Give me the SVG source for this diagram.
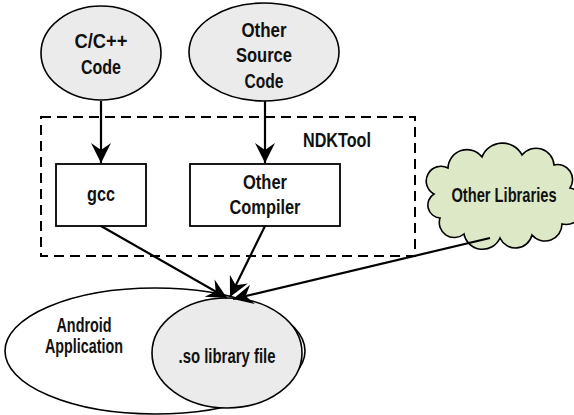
<svg xmlns="http://www.w3.org/2000/svg" width="574" height="415" viewBox="0 0 574 415">
<style>
text{font-family:"Liberation Sans",Arial,sans-serif;font-size:20px;font-weight:bold;fill:#111;text-anchor:middle}
.ell{fill:#ebebeb;stroke:#000;stroke-width:1.6}
.box{fill:#fff;stroke:#000;stroke-width:1.8}
.line{fill:none;stroke:#000;stroke-width:2.2;marker-end:url(#ah)}
</style>
<defs>
<marker id="ah" markerUnits="userSpaceOnUse" markerWidth="24" markerHeight="24" viewBox="-22 -12 24 24" refX="0" refY="0" orient="auto">
<path d="M0,0 L-20,-10 L-13,0 L-20,10 Z" fill="#000"/>
</marker>
</defs>
<g id="ndktool">
<rect x="41" y="117" width="374" height="139" fill="none" stroke="#000" stroke-width="2" stroke-dasharray="10,6"/>
<text x="337" y="147" textLength="68" lengthAdjust="spacingAndGlyphs">NDKTool</text>
</g>
<g id="android-app">
<ellipse cx="155" cy="351" rx="150" ry="63" fill="#fff" stroke="#000" stroke-width="1.6"/>
<text x="84" y="332" textLength="55" lengthAdjust="spacingAndGlyphs">Android</text>
<text x="84" y="353" textLength="78" lengthAdjust="spacingAndGlyphs">Application</text>
</g>
<g id="so-file">
<ellipse class="ell" cx="227" cy="353" rx="75" ry="55"/>
<text x="227" y="363" textLength="97" lengthAdjust="spacingAndGlyphs">.so library file</text>
</g>
<g id="cpp-code">
<ellipse class="ell" cx="101" cy="53" rx="60" ry="47"/>
<text x="101" y="48" textLength="53" lengthAdjust="spacingAndGlyphs">C/C++</text>
<text x="101" y="74" textLength="40" lengthAdjust="spacingAndGlyphs">Code</text>
</g>
<g id="other-source">
<ellipse class="ell" cx="264" cy="52" rx="75" ry="49"/>
<text x="264" y="37" textLength="45" lengthAdjust="spacingAndGlyphs">Other</text>
<text x="264" y="62" textLength="56" lengthAdjust="spacingAndGlyphs">Source</text>
<text x="264" y="88" textLength="39" lengthAdjust="spacingAndGlyphs">Code</text>
</g>
<g id="gcc">
<rect class="box" x="56" y="164" width="90" height="62"/>
<text x="101" y="201" textLength="28" lengthAdjust="spacingAndGlyphs">gcc</text>
</g>
<g id="other-compiler">
<rect class="box" x="190" y="164" width="150" height="62"/>
<text x="265" y="189" textLength="44" lengthAdjust="spacingAndGlyphs">Other</text>
<text x="265" y="214" textLength="71" lengthAdjust="spacingAndGlyphs">Compiler</text>
</g>
<g id="other-libraries">
<path d="M434,194 A13,13 0 0 1 448,168 A19,19 0 0 1 482,157 A22,22 0 0 1 522,155 A18,18 0 0 1 554,165 A15,15 0 0 1 570,188 A18,18 0 0 1 562,224 A17,17 0 0 1 532,235 A17,17 0 0 1 500,238 A19,19 0 0 1 464,234 A15,15 0 0 1 440,218 A13,13 0 0 1 434,194 Z" fill="#dde9c6" stroke="#000" stroke-width="1.6"/>
<text transform="translate(504,202) scale(0.734,1)" x="0" y="0">Other Libraries</text>
</g>
<g id="connectors">
<line class="line" x1="101" y1="101" x2="101" y2="163"/>
<line class="line" x1="265" y1="101" x2="265" y2="163"/>
<line class="line" x1="101" y1="226" x2="227" y2="298"/>
<line class="line" x1="265" y1="226" x2="230" y2="297"/>
<line class="line" x1="490" y1="238" x2="233" y2="299"/>
</g>
</svg>
